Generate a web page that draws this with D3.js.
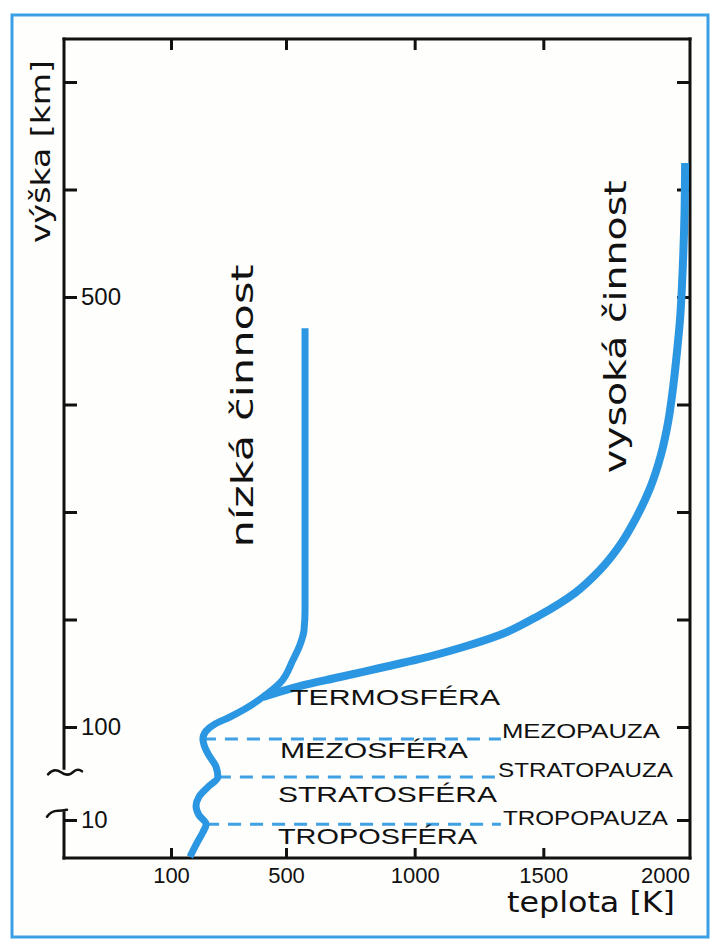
<!DOCTYPE html>
<html>
<head>
<meta charset="utf-8">
<script src="https://cdn.jsdelivr.net/npm/d3@7"></script>
<style>
  body { margin: 0; background: #ffffff; }
  svg { display: block; }
  .tick text { fill: #111; font-family: "Liberation Sans", Arial, sans-serif; }
</style>
</head>
<body>
<svg id="chart" width="713" height="940"></svg>
<script>
// Atmospheric temperature profile at low solar activity (temperature K, altitude km)
const lowTempK  = [166, 190, 211, 222, 197, 187, 197, 229, 263, 257, 229, 215, 211, 222, 253, 305, 357, 420, 479, 527, 554, 570, 574, 574];
const lowAltKm  = [0.3, 3.9, 6.8, 8.9, 14.8, 23.5, 32.3, 42, 51.6, 61.3, 73.9, 82.6, 88.4, 96.1, 102.8, 109.3, 116.7, 127.9, 140.9, 162.3, 176.3, 190.2, 208.8, 471];

// Thermosphere branch at high solar activity
const highTempK = [420, 554, 710, 865, 1020, 1176, 1330, 1487, 1623, 1720, 1798, 1860, 1915, 1957, 1985, 2004, 2019, 2031, 2043, 2049, 2051];
const highAltKm = [127.9, 138.1, 146.5, 154.9, 163.3, 173.5, 185.6, 204.2, 224.7, 246, 269.3, 294.4, 322.3, 353, 383.7, 415.3, 447.9, 478.6, 534.4, 581, 624.7];

// Boundaries between layers
const pauseNames = ["TROPOPAUZA", "STRATOPAUZA", "MEZOPAUZA"];
const pauseAltKm = [8.9, 51.6, 88.4];
const pauseTempK = [222, 263, 211];
const pauseEndK  = 1335;

// Layers
const layerNames = ["TROPOSFÉRA", "STRATOSFÉRA", "MEZOSFÉRA", "TERMOSFÉRA"];

// Axis ticks and labels
const xTickValues  = [100, 500, 1000, 1500];
const xLabelValues = [100, 500, 1000, 1500, 2000];
const yTickValues  = [10, 100, 200, 300, 400, 500, 600, 700];
const yLabelValues = [10, 100, 500];
const axisBreakKm  = [60, 17];

const xTitle = "teplota [K]";
const yTitle = "výška [km]";
const lowLabel = "nízká činnost";
const highLabel = "vysoká činnost";

// ---- layout ----
const W = 713, H = 940;
const BLUE = "#2b96e2";
const INK = "#111";

const svg = d3.select("#chart");

svg.append("rect").attr("x", 0).attr("y", 0).attr("width", W).attr("height", H).attr("fill", "#ffffff");
// blue frame around the figure
svg.append("rect")
  .attr("x", 12).attr("y", 15).attr("width", 696).attr("height", 922)
  .attr("fill", "#fefefc").attr("stroke", "#3a9fe6").attr("stroke-width", 3);

// piecewise scales (the axes are compressed in the lower parts)
const x = d3.scaleLinear().domain([0, 100, 500, 2070]).range([64, 171, 286, 690]);
const y = d3.scaleLinear().domain([0, 10, 100, 740]).range([858, 820, 727, 39]);

const [x0, x1] = [x(0), x(2070)];
const [yb, yt] = [y(0), y(740)];

// frame of the plot
const frame = svg.append("g").attr("stroke", INK).attr("stroke-width", 3).attr("fill", "none").attr("stroke-linecap", "square");
frame.append("line").attr("x1", x0).attr("x2", x1).attr("y1", yt).attr("y2", yt);
frame.append("line").attr("x1", x0).attr("x2", x1).attr("y1", yb).attr("y2", yb);
frame.append("line").attr("x1", x1).attr("x2", x1).attr("y1", yt).attr("y2", yb);
frame.append("line").attr("x1", x0).attr("x2", x0).attr("y1", yt).attr("y2", y(axisBreakKm[0]));
frame.append("line").attr("x1", x0).attr("x2", x0).attr("y1", y(axisBreakKm[1])).attr("y2", yb);

// break marks on the altitude axis
{
  const ya = y(axisBreakKm[0]) + 4;
  const p = d3.path();
  p.moveTo(x0 - 16, ya + 2);
  p.quadraticCurveTo(x0 - 10, ya - 5, x0 - 3, ya);
  p.quadraticCurveTo(x0 + 4, ya + 5, x0 + 10, ya - 1);
  p.quadraticCurveTo(x0 + 14, ya - 4, x0 + 18, ya - 1);
  const yb2 = y(axisBreakKm[1]) - 1;
  p.moveTo(x0 - 17, yb2 + 5);
  p.quadraticCurveTo(x0 - 13, yb2 - 1, x0 - 6, yb2 - 1);
  p.quadraticCurveTo(x0 - 2, yb2 - 1, x0 + 3, yb2 - 2);
  frame.append("path").attr("d", p.toString()).attr("stroke-width", 2.5).attr("stroke-linecap", "round");
}

// axes
function styleAxis(g) {
  g.select(".domain").remove();
  g.selectAll(".tick line").attr("stroke", INK).attr("stroke-width", 3);
}

svg.append("g").attr("transform", `translate(${x0},0)`)
  .call(d3.axisRight(y).tickValues(yTickValues).tickSize(13).tickPadding(4)
    .tickFormat(d => yLabelValues.includes(d) ? d : ""))
  .call(styleAxis)
  .call(g => g.selectAll(".tick text").attr("font-size", 24));

svg.append("g").attr("transform", `translate(${x1},0)`)
  .call(d3.axisLeft(y).tickValues(yTickValues).tickSize(13).tickFormat(""))
  .call(styleAxis);

svg.append("g").attr("transform", `translate(0,${yt})`)
  .call(d3.axisBottom(x).tickValues(xTickValues).tickSize(11).tickFormat(""))
  .call(styleAxis);

svg.append("g").attr("transform", `translate(0,${yb})`)
  .call(d3.axisBottom(x).tickValues(xLabelValues).tickSize(-10).tickPadding(9).tickFormat(d => d))
  .call(styleAxis)
  .call(g => g.selectAll(".tick text").attr("font-size", 22))
  .call(g => g.selectAll(".tick").filter(d => !xTickValues.includes(d)).select("line").remove())
  .call(g => g.selectAll(".tick").filter(d => d === 2000).select("text").attr("dx", -7));

// layer boundaries
svg.append("g").selectAll("line").data(pauseAltKm).join("line")
  .attr("x1", (d, i) => x(pauseTempK[i])).attr("x2", x(pauseEndK))
  .attr("y1", d => y(d)).attr("y2", d => y(d))
  .attr("stroke", BLUE).attr("stroke-width", 3).attr("stroke-dasharray", "13,9")
  .attr("opacity", 0.9);

// temperature curves (altitude is monotonic along each profile)
const line = d3.line().x(d => x(d[0])).y(d => y(d[1])).curve(d3.curveMonotoneY);
svg.append("path").datum(d3.zip(highTempK, highAltKm))
  .attr("d", line).attr("fill", "none").attr("stroke", BLUE).attr("stroke-width", 8);
svg.append("path").datum(d3.zip(lowTempK, lowAltKm))
  .attr("d", line).attr("fill", "none").attr("stroke", BLUE).attr("stroke-width", 7);

// labels
const capFont = '"Liberation Sans", Arial, sans-serif';
const layerPos = [[472, 3.7], [472, 27.4], [479, 70], [516, 120.5]];
const layerWidth = [199, 219, 188, 210];
svg.append("g").selectAll("text").data(layerNames).join("text")
  .attr("x", (d, i) => x(layerPos[i][0])).attr("y", (d, i) => y(layerPos[i][1]))
  .attr("font-family", capFont).attr("font-size", 22).attr("fill", INK)
  .attr("textLength", (d, i) => layerWidth[i]).attr("lengthAdjust", "spacingAndGlyphs")
  .text(d => d);

const pausePos = [[1343, 8.7], [1324, 51.6], [1339, 89.4]];
const pauseWidth = [165, 175, 158];
svg.append("g").selectAll("text").data(pauseNames).join("text")
  .attr("x", (d, i) => x(pausePos[i][0])).attr("y", (d, i) => y(pausePos[i][1]))
  .attr("font-family", capFont).attr("font-size", 21).attr("fill", INK)
  .attr("textLength", (d, i) => pauseWidth[i]).attr("lengthAdjust", "spacingAndGlyphs")
  .text(d => d);

const handFont = '"DejaVu Sans", sans-serif';
// curve labels, written upwards
svg.append("text")
  .attr("transform", `translate(${x(385)},${y(267)}) rotate(-90)`)
  .attr("font-family", handFont).attr("font-size", 30).attr("fill", INK)
  .attr("textLength", 283).attr("lengthAdjust", "spacingAndGlyphs")
  .text(lowLabel);
svg.append("text")
  .attr("transform", `translate(${x(1821)},${y(336)}) rotate(-90)`)
  .attr("font-family", handFont).attr("font-size", 30).attr("fill", INK)
  .attr("textLength", 293).attr("lengthAdjust", "spacingAndGlyphs")
  .text(highLabel);

// axis titles
svg.append("text")
  .attr("transform", `translate(50,243) rotate(-90)`)
  .attr("font-family", handFont).attr("font-size", 26).attr("fill", INK)
  .attr("textLength", 183).attr("lengthAdjust", "spacingAndGlyphs")
  .text(yTitle);
svg.append("text")
  .attr("x", 507).attr("y", 912)
  .attr("font-family", handFont).attr("font-size", 28).attr("fill", INK)
  .attr("textLength", 168).attr("lengthAdjust", "spacingAndGlyphs")
  .text(xTitle);
</script>
</body>
</html>
